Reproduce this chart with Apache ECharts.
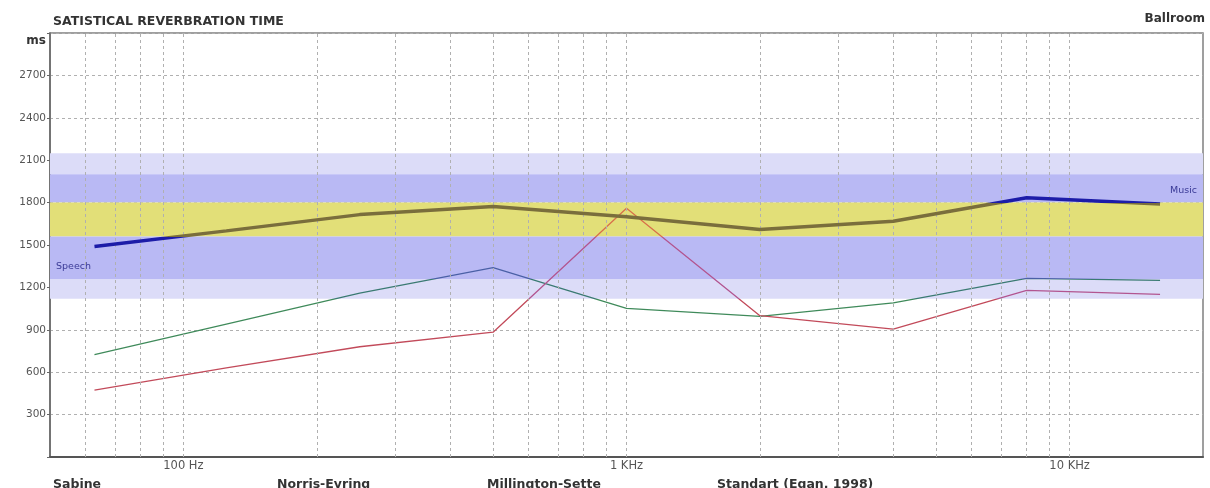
<!DOCTYPE html>
<html>
<head>
<meta charset="utf-8">
<title>Satistical Reverbration Time</title>
<script src="https://cdn.jsdelivr.net/npm/echarts@6/dist/echarts.min.js"></script>
<style>
  html, body { margin: 0; padding: 0; background: #ffffff; }
  #chart { width: 1210px; height: 488px; }
</style>
</head>
<body>
<div id="chart"></div>
<script>
// Octave-band centre frequencies (Hz)
const freqs = [63, 125, 250, 500, 1000, 2000, 4000, 8000, 16000];

// Reverberation time per band (ms)
const standartEgan = [1490, 1600, 1715, 1772, 1700, 1610, 1668, 1835, 1790];
const sabine       = [725, 940, 1160, 1340, 1052, 995, 1090, 1264, 1250];
const norrisEyring = [473, 630, 780, 883, 1760, 1000, 905, 1179, 1151];

// Recommended ranges (ms): outer halo, music, overlap, speech, lower halo
const upperHalo = [2000, 2150];
const musicBand = [1800, 2000];
const overlapBand = [1560, 1800];
const speechBand = [1260, 1560];
const lowerHalo = [1120, 1260];

// Minor frequency grid (Hz)
const freqGrid = [60, 70, 80, 90, 100, 200, 300, 400, 500, 600, 700, 800, 900,
                  1000, 2000, 3000, 4000, 5000, 6000, 7000, 8000, 9000, 10000];

// Axis texts
const yTicks = { min: 0, max: 3000, step: 300 };
const freqLabels = { 100: '100 Hz', 1000: '1 KHz', 10000: '10 KHz' };
const methodNames = ['Sabine', 'Norris-Eyring', 'Millington-Sette', 'Standart (Egan, 1998)'];

const pairs = (vals) => freqs.map((f, i) => [f, vals[i]]);
const band = (r, color, label) => [
  { yAxis: r[0], itemStyle: { color: color }, label: label || { show: false } },
  { yAxis: r[1] }
];

const chart = echarts.init(document.getElementById('chart'), null, { renderer: 'canvas' });

const FONT = 'DejaVu Sans';
const headText = { fontFamily: FONT, fontWeight: 'bold', fontSize: 12.5, color: '#333' };
const footText = { fontFamily: FONT, fontWeight: 'bold', fontSize: 12.5, color: '#333' };

chart.setOption({
  animation: false,
  backgroundColor: '#ffffff',
  textStyle: { fontFamily: FONT },
  title: [
    { text: 'SATISTICAL REVERBRATION TIME', left: 48, top: 10, textStyle: headText },
    { text: 'Ballroom', right: 0, top: 8, textStyle: Object.assign({}, headText, { fontSize: 12 }) },
    { text: methodNames[0], left: 48, top: 473, textStyle: footText },
    { text: methodNames[1], left: 272, top: 473, textStyle: footText },
    { text: methodNames[2], left: 482, top: 473, textStyle: footText },
    { text: methodNames[3], left: 712, top: 473, textStyle: footText }
  ],
  grid: {
    left: 50, right: 7, top: 33, bottom: 31,
    show: true, borderColor: '#808080', borderWidth: 1.5, backgroundColor: 'transparent'
  },
  xAxis: {
    type: 'log',
    logBase: 10,
    min: 50,
    max: 20000,
    axisLine: { show: true, lineStyle: { color: '#555', width: 2 } },
    axisTick: { show: false },
    splitLine: { show: false },
    axisLabel: {
      showMinLabel: false,
      showMaxLabel: false,
      margin: 3,
      color: '#555',
      fontSize: 11.5,
      formatter: (v) => freqLabels[Math.round(v)] || ''
    }
  },
  yAxis: {
    type: 'value',
    min: yTicks.min,
    max: yTicks.max,
    interval: yTicks.step,
    axisLine: { show: true, lineStyle: { color: '#666', width: 1.5 } },
    axisTick: { show: true, length: 3, lineStyle: { color: '#666' } },
    splitLine: { show: true, lineStyle: { color: '#b0b0b0', type: [3, 3], width: 1 } },
    axisLabel: {
      margin: 4,
      color: '#555',
      fontSize: 10.5,
      formatter: (v) => v === yTicks.max ? '{u|ms}' : (v === yTicks.min ? '' : String(v)),
      rich: { u: { fontWeight: 'bold', fontSize: 12, color: '#333', padding: [16, 0, 0, 0] } }
    }
  },
  visualMap: [
    {
      show: false, type: 'piecewise', seriesIndex: 1, dimension: 1,
      pieces: [
        { lt: overlapBand[0], color: '#1c1ca8' },
        { gte: overlapBand[0], lte: overlapBand[1], color: '#7a6e3c' },
        { gt: overlapBand[1], color: '#1c1ca8' }
      ]
    },
    {
      show: false, type: 'piecewise', seriesIndex: 2, dimension: 1,
      pieces: [
        { lt: lowerHalo[0], color: '#3f8a5a' },
        { gte: lowerHalo[0], lt: speechBand[0], color: '#3a7a72' },
        { gte: speechBand[0], color: '#4a60a6' }
      ]
    },
    {
      show: false, type: 'piecewise', seriesIndex: 3, dimension: 1,
      pieces: [
        { lt: lowerHalo[0], color: '#c24a5a' },
        { gte: lowerHalo[0], lt: overlapBand[0], color: '#b25590' },
        { gte: overlapBand[0], color: '#d8704a' }
      ]
    }
  ],
  series: [
    {
      // background bands and the dotted frequency grid
      type: 'line',
      data: [],
      silent: true,
      z: 1,
      markArea: {
        silent: true,
        data: [
          band(upperHalo, '#dcdcf8'),
          band(musicBand, '#b9b9f4', {
            show: true, position: 'insideRight', distance: 6, offset: [0, 2],
            formatter: 'Music', color: '#3a3a96', fontSize: 9.5, fontFamily: FONT
          }),
          band(overlapBand, '#e2df78'),
          band(speechBand, '#b9b9f4', {
            show: true, position: 'insideBottomLeft', distance: 6, offset: [0, -1],
            formatter: 'Speech', color: '#3a3a96', fontSize: 9.5, fontFamily: FONT
          }),
          band(lowerHalo, '#dcdcf8')
        ]
      },
      markLine: {
        silent: true,
        symbol: 'none',
        label: { show: false },
        lineStyle: { color: '#b0b0b0', type: [3, 3], width: 1 },
        data: freqGrid.map((f) => ({ xAxis: f }))
      }
    },
    {
      name: methodNames[3],
      type: 'line',
      data: pairs(standartEgan),
      symbol: 'none',
      z: 5,
      lineStyle: { width: 3.5 }
    },
    {
      name: methodNames[0],
      type: 'line',
      data: pairs(sabine),
      symbol: 'none',
      z: 4,
      lineStyle: { width: 1.3 }
    },
    {
      name: methodNames[1],
      type: 'line',
      data: pairs(norrisEyring),
      symbol: 'none',
      z: 4,
      lineStyle: { width: 1.3 }
    }
  ]
});
</script>
</body>
</html>
